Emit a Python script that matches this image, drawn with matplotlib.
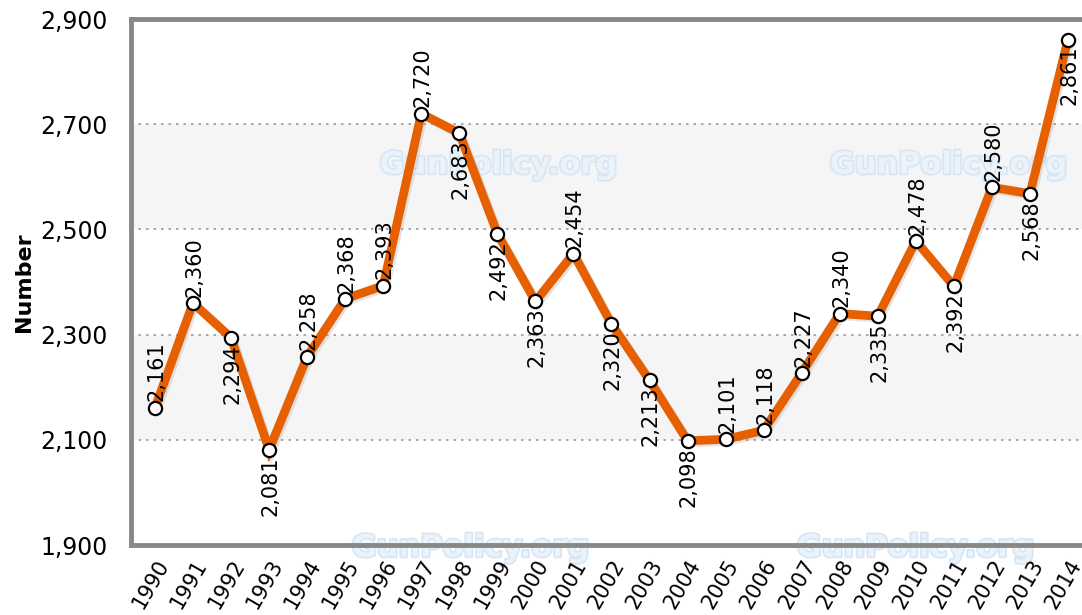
import numpy as np
import matplotlib.pyplot as plt
import matplotlib.patheffects as pe

# Data
years = [str(y) for y in range(1990, 2015)]
values = [2161, 2360, 2294, 2081, 2258, 2368, 2393, 2720, 2683, 2492,
          2363, 2454, 2320, 2213, 2098, 2101, 2118, 2227, 2340, 2335,
          2478, 2392, 2580, 2568, 2861]
# label side: 1 = above the point, -1 = below
label_side = [1, 1, -1, -1, 1, 1, 1, 1, -1, -1,
              -1, 1, -1, -1, -1, 1, 1, 1, 1, -1,
              1, -1, 1, -1, -1]
yticks = [1900, 2100, 2300, 2500, 2700, 2900]

line_color = '#e65f00'
grid_color = '#999999'
spine_color = '#888888'

fig = plt.figure(figsize=(10.82, 6.15), dpi=100)
ax = fig.add_axes([131 / 1082, 1 - 545 / 615, 964 / 1082, 526 / 615])

x = np.arange(len(years))

# alternating bands
for lo, hi in [(2100, 2300), (2500, 2700)]:
    ax.axhspan(lo, hi, color='#f5f5f5', zorder=0, lw=0)
for yv in [2100, 2300, 2500, 2700]:
    ax.axhline(yv, color=grid_color, lw=1.2, ls=(0, (1.5, 3)), zorder=0.5)

# watermarks
for wx, wy in [(498, 165), (948, 165), (470, 548), (915, 548)]:
    ax.text(wx / 1082, 1 - wy / 615, 'GunPolicy.org', transform=fig.transFigure,
            ha='center', va='center', fontsize=22, fontweight='bold',
            color='#eaf2fa', zorder=0.6, clip_on=False,
            path_effects=[pe.withStroke(linewidth=2.5, foreground='#d8e6f4')])

ax.plot(x, values, color=line_color, lw=6.3, zorder=3, solid_joinstyle='miter',
        path_effects=[pe.SimpleLineShadow(offset=(1.5, -1.5), shadow_color='#999999', alpha=0.25),
                      pe.Normal()])
ax.plot(x, values, ls='none', marker='o', ms=9.5, mfc='white', mec='black',
        mew=1.6, zorder=5)

for xi, v, s in zip(x, values, label_side):
    ax.annotate(f'{v:,}', (xi, v), xytext=(1, 4.5 * s), textcoords='offset points',
                rotation=90, ha='center', va='bottom' if s > 0 else 'top',
                fontsize=15, zorder=4, color='black')

ax.set_xlim(-0.631, 24.71)
ax.set_ylim(1900, 2900)
ax.set_yticks(yticks)
ax.set_yticklabels([f'{t:,}' for t in yticks], fontsize=17)
ax.set_xticks(x)
ax.set_xticklabels(years, rotation=60, ha='right', rotation_mode='anchor', fontsize=15)
ax.tick_params(axis='y', length=0, width=0, pad=17)
ax.tick_params(axis='x', length=0, width=0, pad=8)
ax.set_ylabel('Number', fontsize=16, fontweight='bold', labelpad=4)

for side in ['left', 'top', 'bottom']:
    ax.spines[side].set_color(spine_color)
    ax.spines[side].set_linewidth(3.5)
ax.spines['right'].set_visible(False)

fig.savefig('out.png', dpi=100)
